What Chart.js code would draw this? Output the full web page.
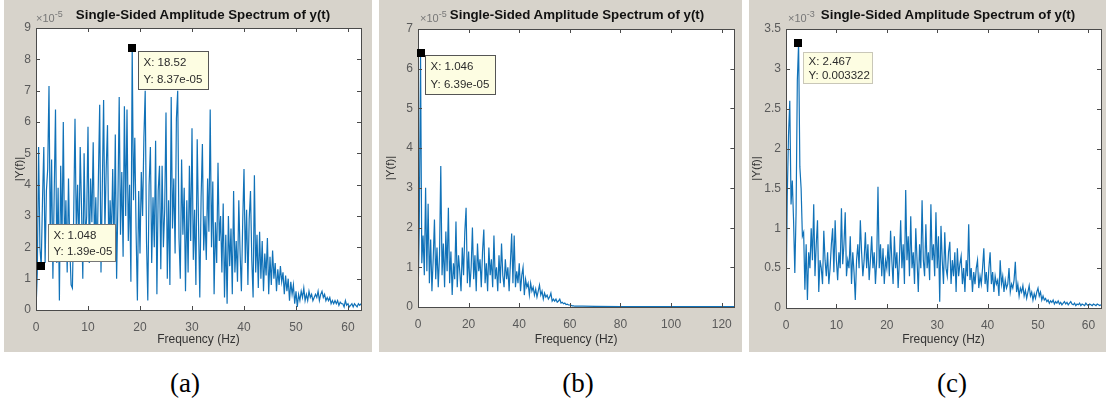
<!DOCTYPE html>
<html lang="en">
<head>
<meta charset="UTF-8" />
<title>Single-Sided Amplitude Spectrum of y(t)</title>
<script src="https://cdn.jsdelivr.net/npm/chart.js"></script>
<style>
  body { margin: 0; background: #fff; font-family: "Liberation Sans", Arial, sans-serif; }
  #page { position: relative; width: 1106px; height: 405px; overflow: hidden; }
  .panel { position: absolute; top: 0; height: 352px; background: #d7d3cb; }
  .panel canvas { position: absolute; left: 0; top: 0; }
  .title { position: absolute; top: 7px; font-weight: bold; font-size: 13.3px; color: #111;
           white-space: nowrap; transform: translateX(-50%); }
  .expo { position: absolute; top: 9px; font-size: 11px; color: #777; white-space: nowrap; }
  .expo sup { font-size: 9px; }
  .caption { position: absolute; top: 368px; font-family: "Liberation Serif", "Times New Roman", serif;
             font-size: 27px; color: #000; transform: translateX(-50%); }
</style>
</head>
<body>
<div id="page">
  <div class="panel" style="left:4px;width:368px">
    <canvas id="chartA" width="368" height="352"></canvas>
    <div class="expo" style="left:32px">&times;10<sup>-5</sup></div>
    <div class="title" style="left:199px">Single-Sided Amplitude Spectrum of y(t)</div>
  </div>
  <div class="panel" style="left:379px;width:363px">
    <canvas id="chartB" width="363" height="352"></canvas>
    <div class="expo" style="left:41px">&times;10<sup>-5</sup></div>
    <div class="title" style="left:198px">Single-Sided Amplitude Spectrum of y(t)</div>
  </div>
  <div class="panel" style="left:749px;width:357px">
    <canvas id="chartC" width="357" height="352"></canvas>
    <div class="expo" style="left:39px">&times;10<sup>-3</sup></div>
    <div class="title" style="left:199px">Single-Sided Amplitude Spectrum of y(t)</div>
  </div>
  <div class="caption" style="left:185px">(a)</div>
  <div class="caption" style="left:578px">(b)</div>
  <div class="caption" style="left:952px">(c)</div>
</div>

<script>
  // frequency bin spacing (Hz) of each spectrum
  const stepA = 0.25;
  const stepB = 0.5;
  const stepC = 0.25;

  // (a) |Y(f)| in units of 1e-5, bins 0 .. 62.5 Hz
  const ampA = [
    0.0, 1.2, 5.2, 2.0,   1.39, 3.5, 5.2, 1.5,   3.8, 4.5, 7.15, 2.1,   4.8, 1.0, 3.7, 6.4,
    1.5, 3.9, 0.3, 4.6,   2.2, 6.0, 1.8, 3.5,    1.2, 4.2, 2.0, 0.8,    0.7, 3.0, 6.1, 2.5,
    4.0, 1.8, 5.2, 3.3,   1.0, 5.0, 2.2, 3.0,    5.85, 1.5, 4.2, 2.8,   5.35, 2.0, 3.6, 1.6,
    4.2, 6.55, 1.2, 3.9,  6.7, 2.5, 4.5, 5.9,    1.8, 3.5, 2.2, 4.5,    2.0, 5.6, 1.0, 3.4,
    6.8, 2.4, 4.4, 1.7,   6.5, 3.0, 6.4, 2.2,    4.0, 0.9, 8.37, 3.5,   5.5, 2.5, 0.3, 3.8,
    1.8, 4.4, 3.0, 5.5,   7.0, 2.2, 0.3, 4.0,    5.2, 1.5, 3.6, 2.0,    5.4, 0.5, 3.8, 4.6,
    1.3, 4.6, 2.0, 3.2,   6.3, 1.0, 3.5, 0.8,    6.8, 2.6, 4.2, 1.8,    6.1, 7.0, 2.3, 1.0,
    4.8, 2.4, 3.9, 0.6,   3.5, 1.2, 4.6, 2.2,    5.8, 1.6, 3.2, 0.8,    5.45, 2.8, 0.4, 3.6,
    5.3, 1.9, 3.0, 1.6,   4.2, 2.5, 6.4, 2.0,    4.1, 0.5, 2.8, 1.5,    4.7, 2.2, 3.0, 1.2,
    3.4, 0.4, 2.4, 0.2,   3.0, 1.4, 2.6, 0.5,    3.8, 1.2, 2.2, 0.9,    3.5, 1.8, 0.6, 2.8,
    4.5, 1.5, 3.2, 0.8,   2.9, 3.8, 1.6, 0.4,    4.3, 1.2, 2.4, 0.7,    2.5, 1.0, 2.2, 0.6,
    1.8, 1.1, 2.3, 0.5,   1.7, 0.8, 1.9, 1.0,    1.5, 0.6, 1.3, 0.8,    1.4, 0.9, 1.2, 0.5,
    1.1, 0.6, 1.0, 0.3,   0.9, 0.5, 0.8, 0.2,    0.6, 0.1, 0.5, 0.3,    0.6, 0.4, 0.7, 0.3,
    0.5, 0.3, 0.6, 0.4,   0.5, 0.3, 0.4, 0.5,    0.4, 0.6, 0.3, 0.5,    0.6, 0.4, 0.5, 0.3,
    0.4, 0.3, 0.4, 0.2,   0.3, 0.2, 0.3, 0.2,    0.3, 0.15, 0.25, 0.2,  0.2, 0.1, 0.3, 0.15,
    0.2, 0.1, 0.15, 0.2,  0.1, 0.2, 0.15, 0.1,   0.2, 0.15, 0.2
  ];

  // (b) |Y(f)| in units of 1e-5, bins 0 .. 62.5 Hz, then the flat tail to 125 Hz
  const ampB = [
    0.1, 2.0, 6.39, 1.1, 1.8, 0.8, 3.0, 0.9, 2.6, 0.6,
    1.7, 0.4, 1.2, 2.2, 0.7, 1.5, 0.5, 1.3, 3.55, 0.8,
    1.6, 0.5, 1.9, 0.9, 2.5, 0.6, 1.4, 0.3, 1.1, 0.7,
    2.15, 0.5, 1.3, 0.9, 0.4, 1.5, 0.8, 1.9, 2.5, 0.6,
    1.4, 0.5, 1.0, 2.0, 0.7, 1.3, 0.4, 1.6, 0.9, 1.2,
    0.5, 1.4, 1.95, 0.6, 1.1, 0.4, 1.5, 0.8, 1.2, 0.5,
    1.8, 0.7, 1.0, 0.4, 1.3, 0.6, 1.6, 0.8, 0.5, 1.2,
    0.7, 1.0, 0.4, 1.1, 1.85, 0.6, 1.8, 0.5, 0.9, 0.6,
    1.1, 0.4, 0.8, 1.0, 0.3, 0.7, 0.5, 0.6, 0.3, 0.6,
    0.4, 0.5, 0.3, 0.45, 0.25, 0.4, 0.55, 0.3, 0.4, 0.2,
    0.35, 0.25, 0.3, 0.2, 0.25, 0.35, 0.15, 0.2, 0.15, 0.2,
    0.12, 0.15, 0.2, 0.1, 0.12, 0.08, 0.1, 0.06, 0.07, 0.05,
    0.05, 0.04, 0.03, 0.03, 0.02, 0.02
  ];
  const freqTailB = [65, 70, 80, 90, 100, 110, 120, 125];
  const ampTailB = [0.02, 0.015, 0.01, 0.01, 0.01, 0.008, 0.008, 0.008];

  // (c) |Y(f)| in units of 1e-3, bins 0 .. 62.5 Hz
  const ampC = [
    0.0, 1.4, 2.17, 2.6,    1.3, 1.6, 1.1, 0.44,    1.2, 2.86, 3.322, 1.77,  1.5, 0.9, 0.95, 0.23,
    0.8, 0.1, 0.7, 0.5,     1.0, 0.6, 1.3, 0.4,     0.8, 1.1, 0.2, 0.6,      0.5, 0.3, 0.97, 0.6,
    0.4, 0.7, 0.3, 0.5,     0.8, 1.0, 0.45, 1.1,    0.6, 0.35, 0.7, 0.5,     1.25, 0.55, 0.8, 1.2,
    0.4, 0.6, 0.5, 0.9,     0.3, 0.7, 0.45, 0.1,    0.6, 0.8, 0.5, 1.1,      0.7, 0.4, 0.6, 0.95,
    0.5, 0.8, 0.35, 0.6,    0.9, 0.5, 0.7, 0.3,     0.6, 1.52, 0.5, 0.8,     0.4, 0.75, 0.3, 0.6,
    0.5, 0.8, 0.4, 0.97,    0.6, 0.3, 0.9, 0.5,     0.7, 0.25, 0.6, 1.1,     0.5, 0.8, 0.3, 1.48,
    0.6, 0.9, 0.4, 1.15,    0.5, 0.7, 0.3, 1.0,     0.6, 0.2, 0.8, 0.5,      1.35, 0.6, 0.4, 1.05,
    0.5, 0.7, 0.35, 1.3,    0.6, 0.8, 0.4, 1.2,     0.5, 0.9, 0.08, 1.03,    0.6, 0.3, 0.95, 0.5,
    0.4, 0.7, 0.83, 0.3,    0.6, 0.4, 0.7, 0.2,     0.75, 0.4, 0.55, 0.65,   0.3, 0.5, 0.2, 0.6,
    0.4, 1.05, 0.35, 0.5,   0.2, 0.45, 0.3, 0.5,    0.6, 0.25, 0.4, 0.3,     0.5, 0.75, 0.3, 0.45,
    0.2, 0.5, 0.7, 0.3,     0.45, 0.2, 0.4, 0.3,    0.35, 0.15, 0.6, 0.3,    0.4, 0.2, 0.35, 0.25,
    0.3, 0.5, 0.2, 0.3,     0.25, 0.35, 0.58, 0.2,  0.3, 0.15, 0.25, 0.2,    0.28, 0.15, 0.22, 0.12,
    0.2, 0.28, 0.15, 0.2,   0.1, 0.18, 0.12, 0.2,   0.25, 0.15, 0.2, 0.1,    0.15, 0.1, 0.12, 0.08,
    0.1, 0.06, 0.09, 0.07,  0.1, 0.05, 0.08, 0.06,  0.09, 0.05, 0.07, 0.04,  0.06, 0.08, 0.05, 0.07,
    0.04, 0.06, 0.08, 0.05, 0.04, 0.06, 0.03, 0.05, 0.04, 0.06, 0.03, 0.05,  0.04, 0.03, 0.06, 0.04,
    0.03, 0.05, 0.04, 0.03, 0.05, 0.04, 0.03, 0.05, 0.04, 0.03, 0.04
  ];

  // data tips (value coordinates and their text)
  const tipXA = [18.52, 1.048];
  const tipYA = [8.37, 1.39];
  const tipTextA = [["X: 18.52", "Y: 8.37e-05"], ["X: 1.048", "Y: 1.39e-05"]];
  const tipXB = [1.046];
  const tipYB = [6.39];
  const tipTextB = [["X: 1.046", "Y: 6.39e-05"]];
  const tipXC = [2.467];
  const tipYC = [3.322];
  const tipTextC = [["X: 2.467", "Y: 0.003322"]];

  function binned(amp, step) {
    return amp.map((v, i) => ({ x: i * step, y: v }));
  }

  // white axes background, axes box, inward ticks and data tips, matlab style
  const matlabAxes = {
    id: "matlabAxes",
    beforeDatasetsDraw(chart) {
      const { ctx, chartArea: a } = chart;
      ctx.save();
      ctx.fillStyle = "#fff";
      ctx.fillRect(a.left, a.top, a.right - a.left, a.bottom - a.top);
      ctx.restore();
    },
    afterDatasetsDraw(chart, args, opts) {
      const { ctx, chartArea: a, scales } = chart;
      const xs = scales.x, ys = scales.y;
      ctx.save();
      ctx.strokeStyle = "#4a4a4a";
      ctx.lineWidth = 1;
      ctx.strokeRect(Math.round(a.left) + 0.5, Math.round(a.top) + 0.5,
        Math.round(a.right - a.left), Math.round(a.bottom - a.top));
      const t = 4;
      ctx.beginPath();
      xs.ticks.forEach((tk) => {
        const px = Math.round(xs.getPixelForValue(tk.value)) + 0.5;
        ctx.moveTo(px, a.bottom); ctx.lineTo(px, a.bottom - t);
        ctx.moveTo(px, a.top); ctx.lineTo(px, a.top + t);
      });
      ys.ticks.forEach((tk) => {
        const py = Math.round(ys.getPixelForValue(tk.value)) + 0.5;
        ctx.moveTo(a.left, py); ctx.lineTo(a.left + t, py);
        ctx.moveTo(a.right, py); ctx.lineTo(a.right - t, py);
      });
      ctx.stroke();

      // data tips
      (opts.tipX || []).forEach((tx, i) => {
        const px = xs.getPixelForValue(tx);
        const py = ys.getPixelForValue(opts.tipY[i]);
        const box = opts.boxes[i];
        const bx = Math.round(px + box.dx) + 0.5;
        const by = Math.round(py + box.dy) + 0.5;
        ctx.fillStyle = "#fdfde2";
        ctx.fillRect(bx, by, box.w, box.h);
        ctx.strokeStyle = box.border;
        ctx.strokeRect(bx, by, box.w, box.h);
        ctx.fillStyle = "#2b2b2b";
        ctx.font = "11.5px 'Liberation Sans', Arial, sans-serif";
        ctx.textBaseline = "middle";
        ctx.textAlign = "left";
        ctx.fillText(opts.tipText[i][0], bx + 5, by + box.h * 0.3);
        ctx.fillText(opts.tipText[i][1], bx + 5, by + box.h * 0.75);
        ctx.fillStyle = "#000";
        ctx.fillRect(Math.round(px) - 4, Math.round(py) - 4, 8, 8);
      });
      ctx.restore();
    },
  };

  function makeChart(id, points, cfg) {
    return new Chart(document.getElementById(id), {
      type: "line",
      data: {
        datasets: [{
          data: points,
          borderColor: "#1172b8",
          borderWidth: 1.2,
          pointRadius: 0,
          tension: 0,
        }],
      },
      options: {
        responsive: false,
        animation: false,
        parsing: false,
        layout: { padding: { top: cfg.padTop, right: cfg.padRight, left: 0, bottom: 0 } },
        plugins: {
          legend: { display: false },
          tooltip: { enabled: false },
          matlabAxes: cfg.tips,
        },
        scales: {
          x: {
            type: "linear",
            min: 0,
            max: cfg.xMax,
            afterFit: (s) => { s.height = cfg.xHeight; },
            grid: { display: false, drawTicks: false },
            border: { display: false },
            ticks: {
              stepSize: cfg.xStep,
              includeBounds: false,
              maxRotation: 0,
              padding: 10,
              color: "#5a5a5a",
              font: { size: 12 },
            },
            title: {
              display: true,
              text: "Frequency (Hz)",
              color: "#333",
              font: { size: 12 },
              padding: { top: 0, bottom: 5 },
            },
          },
          y: {
            min: 0,
            max: cfg.yMax,
            afterFit: (s) => { s.width = cfg.yWidth; },
            grid: { display: false, drawTicks: false },
            border: { display: false },
            ticks: {
              stepSize: cfg.yStep,
              padding: 5,
              color: "#5a5a5a",
              font: { size: 12 },
              callback: (v) => String(v),
            },
            title: {
              display: true,
              text: "|Y(f)|",
              color: "#333",
              font: { size: 11.5 },
              padding: { top: cfg.yTitlePad, bottom: 0 },
            },
          },
        },
      },
      plugins: [matlabAxes],
    });
  }

  makeChart("chartA", binned(ampA, stepA), {
    padTop: 28, padRight: 11, xHeight: 42, yWidth: 32, yTitlePad: 9,
    xMax: 62.5, xStep: 10, yMax: 9, yStep: 1,
    tips: {
      tipX: tipXA, tipY: tipYA, tipText: tipTextA,
      boxes: [
        { dx: 6, dy: 3, w: 70, h: 38, border: "#555" },
        { dx: 7, dy: -42, w: 67, h: 37, border: "#777" },
      ],
    },
  });

  const pointsB = binned(ampB, stepB).concat(
    freqTailB.map((f, i) => ({ x: f, y: ampTailB[i] }))
  );
  makeChart("chartB", pointsB, {
    padTop: 29, padRight: 6, xHeight: 45, yWidth: 39, yTitlePad: 5,
    xMax: 125, xStep: 20, yMax: 7, yStep: 1,
    tips: {
      tipX: tipXB, tipY: tipYB, tipText: tipTextB,
      boxes: [{ dx: 4, dy: 2, w: 70, h: 39, border: "#555" }],
    },
  });

  makeChart("chartC", binned(ampC, stepC), {
    padTop: 29, padRight: 5, xHeight: 44, yWidth: 37, yTitlePad: 1,
    xMax: 62.5, xStep: 10, yMax: 3.5, yStep: 0.5,
    tips: {
      tipX: tipXC, tipY: tipYC, tipText: tipTextC,
      boxes: [{ dx: 5, dy: 9, w: 69, h: 31, border: "#c9c7b8" }],
    },
  });
</script>
</body>
</html>
